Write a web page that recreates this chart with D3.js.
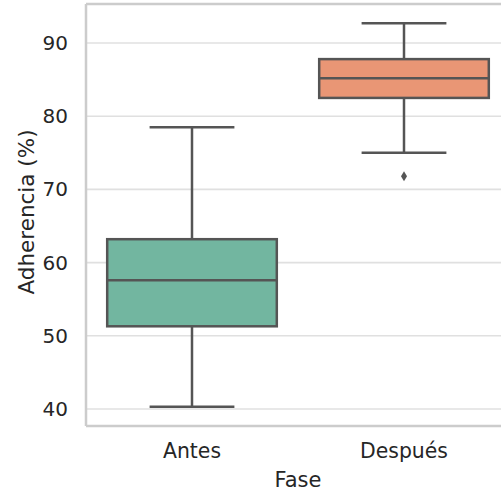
<!DOCTYPE html>
<html>
<head>
<meta charset="utf-8">
<script src="https://cdn.jsdelivr.net/npm/d3@7"></script>
<style>
  body { margin: 0; background: #fff; }
  svg { display: block; font-family: "DejaVu Sans", sans-serif; }
</style>
</head>
<body>
<svg id="svg" width="501" height="492"></svg>
<script>
// box statistics
var fases = ['Antes', 'Después'];
var whiskerLow = [40.3, 75.0];
var q1 = [51.3, 82.5];
var medians = [57.6, 85.2];
var q3 = [63.2, 87.8];
var whiskerHigh = [78.5, 92.7];
var outliers = [[], [71.8]];
var yTicks = [40, 50, 60, 70, 80, 90];
var colors = ['#72b6a0', '#e99675'];

var boxes = fases.map(function(f, i) {
    return {fase: f, lo: whiskerLow[i], q1: q1[i], med: medians[i], q3: q3[i], hi: whiskerHigh[i], out: outliers[i], color: colors[i]};
});

var svg = d3.select("#svg");

var plot = {x0: 86, x1: 510, y0: 4, y1: 426};

var yScale = d3.scaleLinear()
    .domain([37.68, 95.33])
    .range([plot.y1, plot.y0]);

var xScale = d3.scaleBand()
    .domain(fases)
    .range([plot.x0, plot.x1])
    .padding(0);

var boxW = xScale.bandwidth() * 0.8;
var capW = boxW / 2;
var lineCol = '#555555';

// grid
svg.append("g")
    .attr("class", "grid")
    .selectAll("line").data(yTicks).enter()
    .append("line")
    .attr("x1", plot.x0).attr("x2", 501)
    .attr("y1", function(d) { return yScale(d); })
    .attr("y2", function(d) { return yScale(d); })
    .attr("stroke", "#e0e0e0")
    .attr("stroke-width", 1.6);

// y axis labels
var yAxis = svg.append("g")
    .attr("transform", "translate(" + plot.x0 + ",0)")
    .call(d3.axisLeft(yScale).tickValues(yTicks).tickSize(0).tickPadding(18));
yAxis.select(".domain").remove();
yAxis.selectAll("text").attr("font-size", 20).attr("fill", "#262626")
    .attr("font-family", "DejaVu Sans");

// x axis labels
var xAxis = svg.append("g")
    .attr("transform", "translate(0," + plot.y1 + ")")
    .call(d3.axisBottom(xScale).tickSize(0).tickPadding(15));
xAxis.select(".domain").remove();
xAxis.selectAll("text").attr("font-size", 20.4).attr("fill", "#262626")
    .attr("font-family", "DejaVu Sans")
    .attr("dy", null).attr("y", 32);

// spines
svg.append("line").attr("x1", plot.x0).attr("x2", plot.x0).attr("y1", plot.y0).attr("y2", plot.y1)
    .attr("stroke", "#cccccc").attr("stroke-width", 2.5);
svg.append("line").attr("x1", plot.x0).attr("x2", 501).attr("y1", plot.y0).attr("y2", plot.y0)
    .attr("stroke", "#cccccc").attr("stroke-width", 2.5);
svg.append("line").attr("x1", plot.x0).attr("x2", 501).attr("y1", plot.y1).attr("y2", plot.y1)
    .attr("stroke", "#cccccc").attr("stroke-width", 2.5);

// boxes
var g = svg.append("g").selectAll("g").data(boxes).enter()
    .append("g")
    .attr("transform", function(d) { return "translate(" + (xScale(d.fase) + xScale.bandwidth() / 2) + ",0)"; });

g.append("line").attr("x1", 0).attr("x2", 0)
    .attr("y1", function(d) { return yScale(d.hi); })
    .attr("y2", function(d) { return yScale(d.q3); })
    .attr("stroke", lineCol).attr("stroke-width", 2.5);
g.append("line").attr("x1", 0).attr("x2", 0)
    .attr("y1", function(d) { return yScale(d.q1); })
    .attr("y2", function(d) { return yScale(d.lo); })
    .attr("stroke", lineCol).attr("stroke-width", 2.5);
g.append("line").attr("x1", -capW / 2).attr("x2", capW / 2)
    .attr("y1", function(d) { return yScale(d.hi); })
    .attr("y2", function(d) { return yScale(d.hi); })
    .attr("stroke", lineCol).attr("stroke-width", 2.5);
g.append("line").attr("x1", -capW / 2).attr("x2", capW / 2)
    .attr("y1", function(d) { return yScale(d.lo); })
    .attr("y2", function(d) { return yScale(d.lo); })
    .attr("stroke", lineCol).attr("stroke-width", 2.5);

g.append("rect")
    .attr("x", -boxW / 2)
    .attr("width", boxW)
    .attr("y", function(d) { return yScale(d.q3); })
    .attr("height", function(d) { return yScale(d.q1) - yScale(d.q3); })
    .attr("fill", function(d) { return d.color; })
    .attr("stroke", lineCol).attr("stroke-width", 2.5);

g.append("line").attr("x1", -boxW / 2).attr("x2", boxW / 2)
    .attr("y1", function(d) { return yScale(d.med); })
    .attr("y2", function(d) { return yScale(d.med); })
    .attr("stroke", lineCol).attr("stroke-width", 2.5);

g.selectAll("path.out").data(function(d) { return d.out; }).enter()
    .append("path")
    .attr("class", "out")
    .attr("d", function(v) {
        var y = yScale(v);
        return "M0," + (y - 5) + "L3," + y + "L0," + (y + 5) + "L-3," + y + "Z";
    })
    .attr("fill", lineCol);

// axis titles
svg.append("text")
    .attr("x", 298).attr("y", 487)
    .attr("text-anchor", "middle")
    .attr("font-size", 21).attr("fill", "#262626")
    .text("Fase");
svg.append("text")
    .attr("transform", "translate(34," + 212 + ") rotate(-90)")
    .attr("text-anchor", "middle")
    .attr("font-size", 21.5).attr("fill", "#262626")
    .text("Adherencia (%)");
</script>
</body>
</html>
